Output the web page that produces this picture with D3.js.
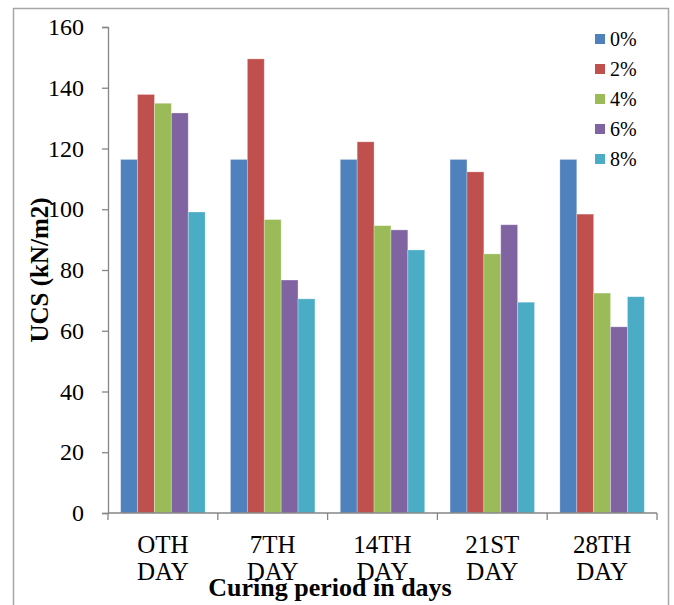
<!DOCTYPE html>
<html>
<head>
<meta charset="utf-8">
<script src="https://cdn.jsdelivr.net/npm/d3@7"></script>
<style>
  html, body { margin: 0; padding: 0; background: #fff; }
  svg { display: block; }
  svg text { font-family: "Liberation Serif", "Times New Roman", serif !important; }
</style>
</head>
<body>
<svg id="chart" width="674" height="605"></svg>
<script>
const categories = [["OTH", "DAY"], ["7TH", "DAY"], ["14TH", "DAY"], ["21ST", "DAY"], ["28TH", "DAY"]];
const seriesNames = ["0%", "2%", "4%", "6%", "8%"];
const seriesColors = ["#4F81BD", "#C0504D", "#9BBB59", "#8064A2", "#4BACC6"];
const values0 = [116.4, 116.4, 116.4, 116.4, 116.4];
const values2 = [137.8, 149.5, 122.2, 112.3, 98.4];
const values4 = [134.9, 96.6, 94.6, 85.3, 72.4];
const values6 = [131.7, 76.7, 93.2, 94.9, 61.3];
const values8 = [99.1, 70.5, 86.6, 69.4, 71.2];
const yTicks = [0, 20, 40, 60, 80, 100, 120, 140, 160];
const yTitle = "UCS (kN/m2)";
const xTitle = "Curing period in days";

const series = [values0, values2, values4, values6, values8];

(function () {
const FONT = '"Liberation Serif", "Times New Roman", serif';
const svg = d3.select("#chart");
const pLeft = 108, pRight = 657, pTop = 27, pBottom = 513;

// outer frame
svg.append("rect")
  .attr("x", 13.5).attr("y", 8.5)
  .attr("width", 655).attr("height", 620)
  .attr("fill", "none").attr("stroke", "#a6a6a6").attr("stroke-width", 1.5);

const catIdx = d3.range(categories.length);
const x = d3.scaleBand().domain(catIdx).range([pLeft, pRight]).paddingInner(0).paddingOuter(0);
const bw = x.bandwidth();
const x1 = d3.scaleBand().domain(d3.range(series.length))
  .range([bw * 1.5 / 13, bw - bw * 1.5 / 13]).padding(0);
const y = d3.scaleLinear().domain([0, 160]).range([pBottom, pTop]);

// bars
series.forEach((vals, si) => {
  svg.append("g").selectAll("rect")
    .data(vals)
    .join("rect")
    .attr("x", (d, i) => x(i) + x1(si))
    .attr("y", d => y(d))
    .attr("width", x1.bandwidth())
    .attr("height", d => y(0) - y(d))
    .attr("fill", seriesColors[si])
    .attr("stroke", "#ffffff").attr("stroke-opacity", 0.35).attr("stroke-width", 0.8);
});

// y axis
const yAxis = d3.axisLeft(y).tickValues(yTicks).tickSize(6).tickPadding(18).tickSizeOuter(6);
const gy = svg.append("g").attr("transform", `translate(${pLeft},0)`).call(yAxis)
  .attr("font-family", null).attr("font-size", null);
gy.select(".domain").attr("stroke", "#868686").attr("stroke-width", 1.3);
gy.selectAll(".tick line").attr("stroke", "#868686").attr("stroke-width", 1.3);
gy.selectAll(".tick text").style("font-size", "24px").attr("fill", "#000")
  .style("font-family", FONT);

// x axis
const boundaries = d3.range(categories.length + 1).map(i => pLeft + i * bw);
svg.append("line").attr("x1", pLeft).attr("x2", pRight).attr("y1", pBottom).attr("y2", pBottom)
  .attr("stroke", "#868686").attr("stroke-width", 1.3);
svg.append("g").selectAll("line").data(boundaries).join("line")
  .attr("x1", d => d).attr("x2", d => d).attr("y1", pBottom).attr("y2", pBottom + 7)
  .attr("stroke", "#868686").attr("stroke-width", 1.3);

const catLabels = svg.append("g").selectAll("text").data(categories).join("text")
  .attr("text-anchor", "middle").style("font-size", "25px").style("font-family", FONT).attr("fill", "#000");
catLabels.each(function(d, i) {
  const t = d3.select(this);
  d.forEach((line, li) => {
    t.append("tspan").attr("x", x(i) + bw / 2).attr("y", 553 + li * 27).text(line);
  });
});

// axis titles
svg.append("text")
  .attr("transform", "translate(48,270) rotate(-90)")
  .attr("text-anchor", "middle").style("font-size", "25px").style("font-weight", "bold")
  .style("font-family", FONT)
  .text(yTitle);
svg.append("text")
  .attr("x", 330).attr("y", 596)
  .attr("text-anchor", "middle").style("font-size", "26px").style("font-weight", "bold")
  .style("font-family", FONT)
  .text(xTitle);

// legend
const lg = svg.append("g");
seriesNames.forEach((name, i) => {
  const cy = 39 + i * 30;
  lg.append("rect").attr("x", 595).attr("y", cy - 5).attr("width", 10).attr("height", 10)
    .attr("fill", seriesColors[i]);
  lg.append("text").attr("x", 610).attr("y", cy + 7).style("font-size", "20px")
    .style("font-family", FONT).attr("fill", "#000").text(name);
});
})();
</script>
</body>
</html>
